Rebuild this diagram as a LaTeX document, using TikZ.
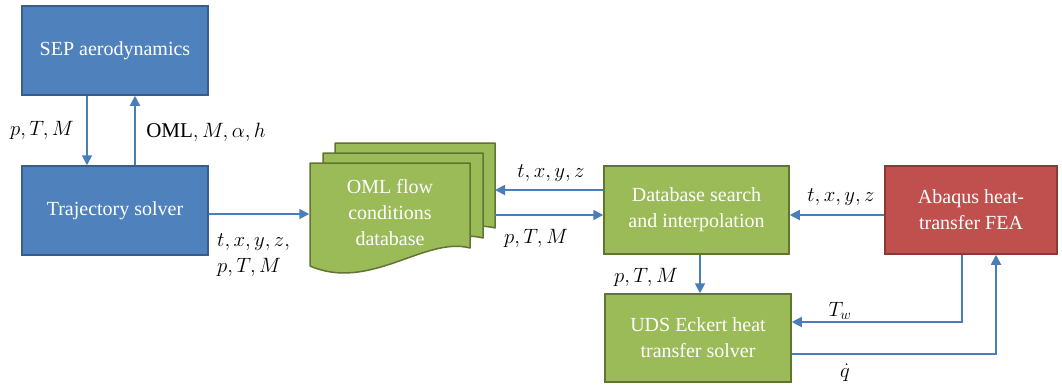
\documentclass[tikz,border=0pt]{standalone}
\usepackage{fontspec}
\setmainfont{Liberation Serif}
\usetikzlibrary{arrows.meta}
\definecolor{blueFill}{HTML}{4F81BD}
\definecolor{blueLine}{HTML}{385D8A}
\definecolor{greenFill}{HTML}{9BBB59}
\definecolor{greenLine}{HTML}{5F7530}
\definecolor{redFill}{HTML}{C0504D}
\definecolor{redLine}{HTML}{8C3836}
\definecolor{arrowBlue}{HTML}{4A7EBB}
\tikzset{
  box/.style={rectangle, line width=1.5pt, text=white, align=center,
    font=\rmfamily\fontsize{20}{26}\selectfont, inner sep=0pt},
  bluebox/.style={box, fill=blueFill, draw=blueLine},
  greenbox/.style={box, fill=greenFill, draw=greenLine},
  redbox/.style={box, fill=redFill, draw=redLine},
  sheet/.style={fill=greenFill, draw=greenLine, line width=1.5pt, line join=round},
  arr/.style={draw=arrowBlue, line width=1.8pt, -{Triangle[length=10pt,width=10pt]}},
  lbl/.style={font=\fontsize{21}{26}\selectfont, inner sep=0pt, align=left}
}
\begin{document}
\begin{tikzpicture}[x=1pt,y=-1pt]
\useasboundingbox (0,0) rectangle (1062,391);

% process boxes
\node[bluebox, minimum width=186pt, minimum height=89pt] (sep) at (115,50.5) {SEP aerodynamics};
\node[bluebox, minimum width=186pt, minimum height=89pt] (traj) at (115,210.5) {Trajectory solver};
\node[greenbox, minimum width=185pt, minimum height=88pt] (search) at (696.5,210) {Database search\\and interpolation};
\node[redbox, minimum width=172pt, minimum height=88pt] (abaqus) at (971,210) {Abaqus heat-\\transfer FEA};
\node[greenbox, minimum width=186pt, minimum height=88pt] (uds) at (698,338) {UDS Eckert heat\\transfer solver};

% stacked multi-document database
\foreach \dx/\dy in {25/-20, 13/-10, 0/0} {
  \begin{scope}[shift={(\dx,\dy)}]
    \path[sheet] (310,163) -- (470,163) -- (470,248)
      .. controls (425,236) and (370,292) .. (310,266) -- cycle;
  \end{scope}
}
\node[box, minimum width=160pt, minimum height=100pt] (db) at (390,213) {OML flow\\conditions\\database};
\coordinate (dbR) at (495,0);

% connectors
\draw[arr] ([xshift=-28pt]sep.south) -- ([xshift=-28pt]traj.north);
\draw[arr] ([xshift=20pt]traj.north) -- ([xshift=20pt]sep.south);
\draw[arr] ([yshift=-3.5pt]traj.east) -- ([yshift=-3.5pt]traj.east -| db.west);
\draw[arr] ([yshift=20pt]search.west) -- ([yshift=20pt]search.west -| dbR);
\draw[arr] ([yshift=-5pt]search.west -| dbR) -- ([yshift=-5pt]search.west);
\draw[arr] ([yshift=-5pt]abaqus.west) -- ([yshift=-5pt]abaqus.west -| search.east);
\draw[arr] ([xshift=3.5pt]search.south) -- ([xshift=3.5pt]search.south |- uds.north);
\draw[arr] ([xshift=-9pt]abaqus.south) |- ([yshift=16pt]uds.east);
\draw[arr] ([yshift=-16pt]uds.east) -| ([xshift=25pt]abaqus.south);

% signal labels
\node[lbl] (l1) at (42,130) {$p,T,M$};
\node[lbl] (l2) at (206,132) {$\mathrm{OML},M,\alpha,h$};
\node[lbl, anchor=west] (l3) at (217,255) {$t,x,y,z,$\\$p,T,M$};
\node[lbl] (l4) at (551,173) {$t,x,y,z$};
\node[lbl] (l5) at (536,238) {$p,T,M$};
\node[lbl] (l6) at (841,197) {$t,x,y,z$};
\node[lbl] (l7) at (646,277) {$p,T,M$};
\node[lbl] (l8) at (840,311) {$T_w$};
\node[lbl] (l9) at (845,373) {$\dot q$};
\end{tikzpicture}
\end{document}
